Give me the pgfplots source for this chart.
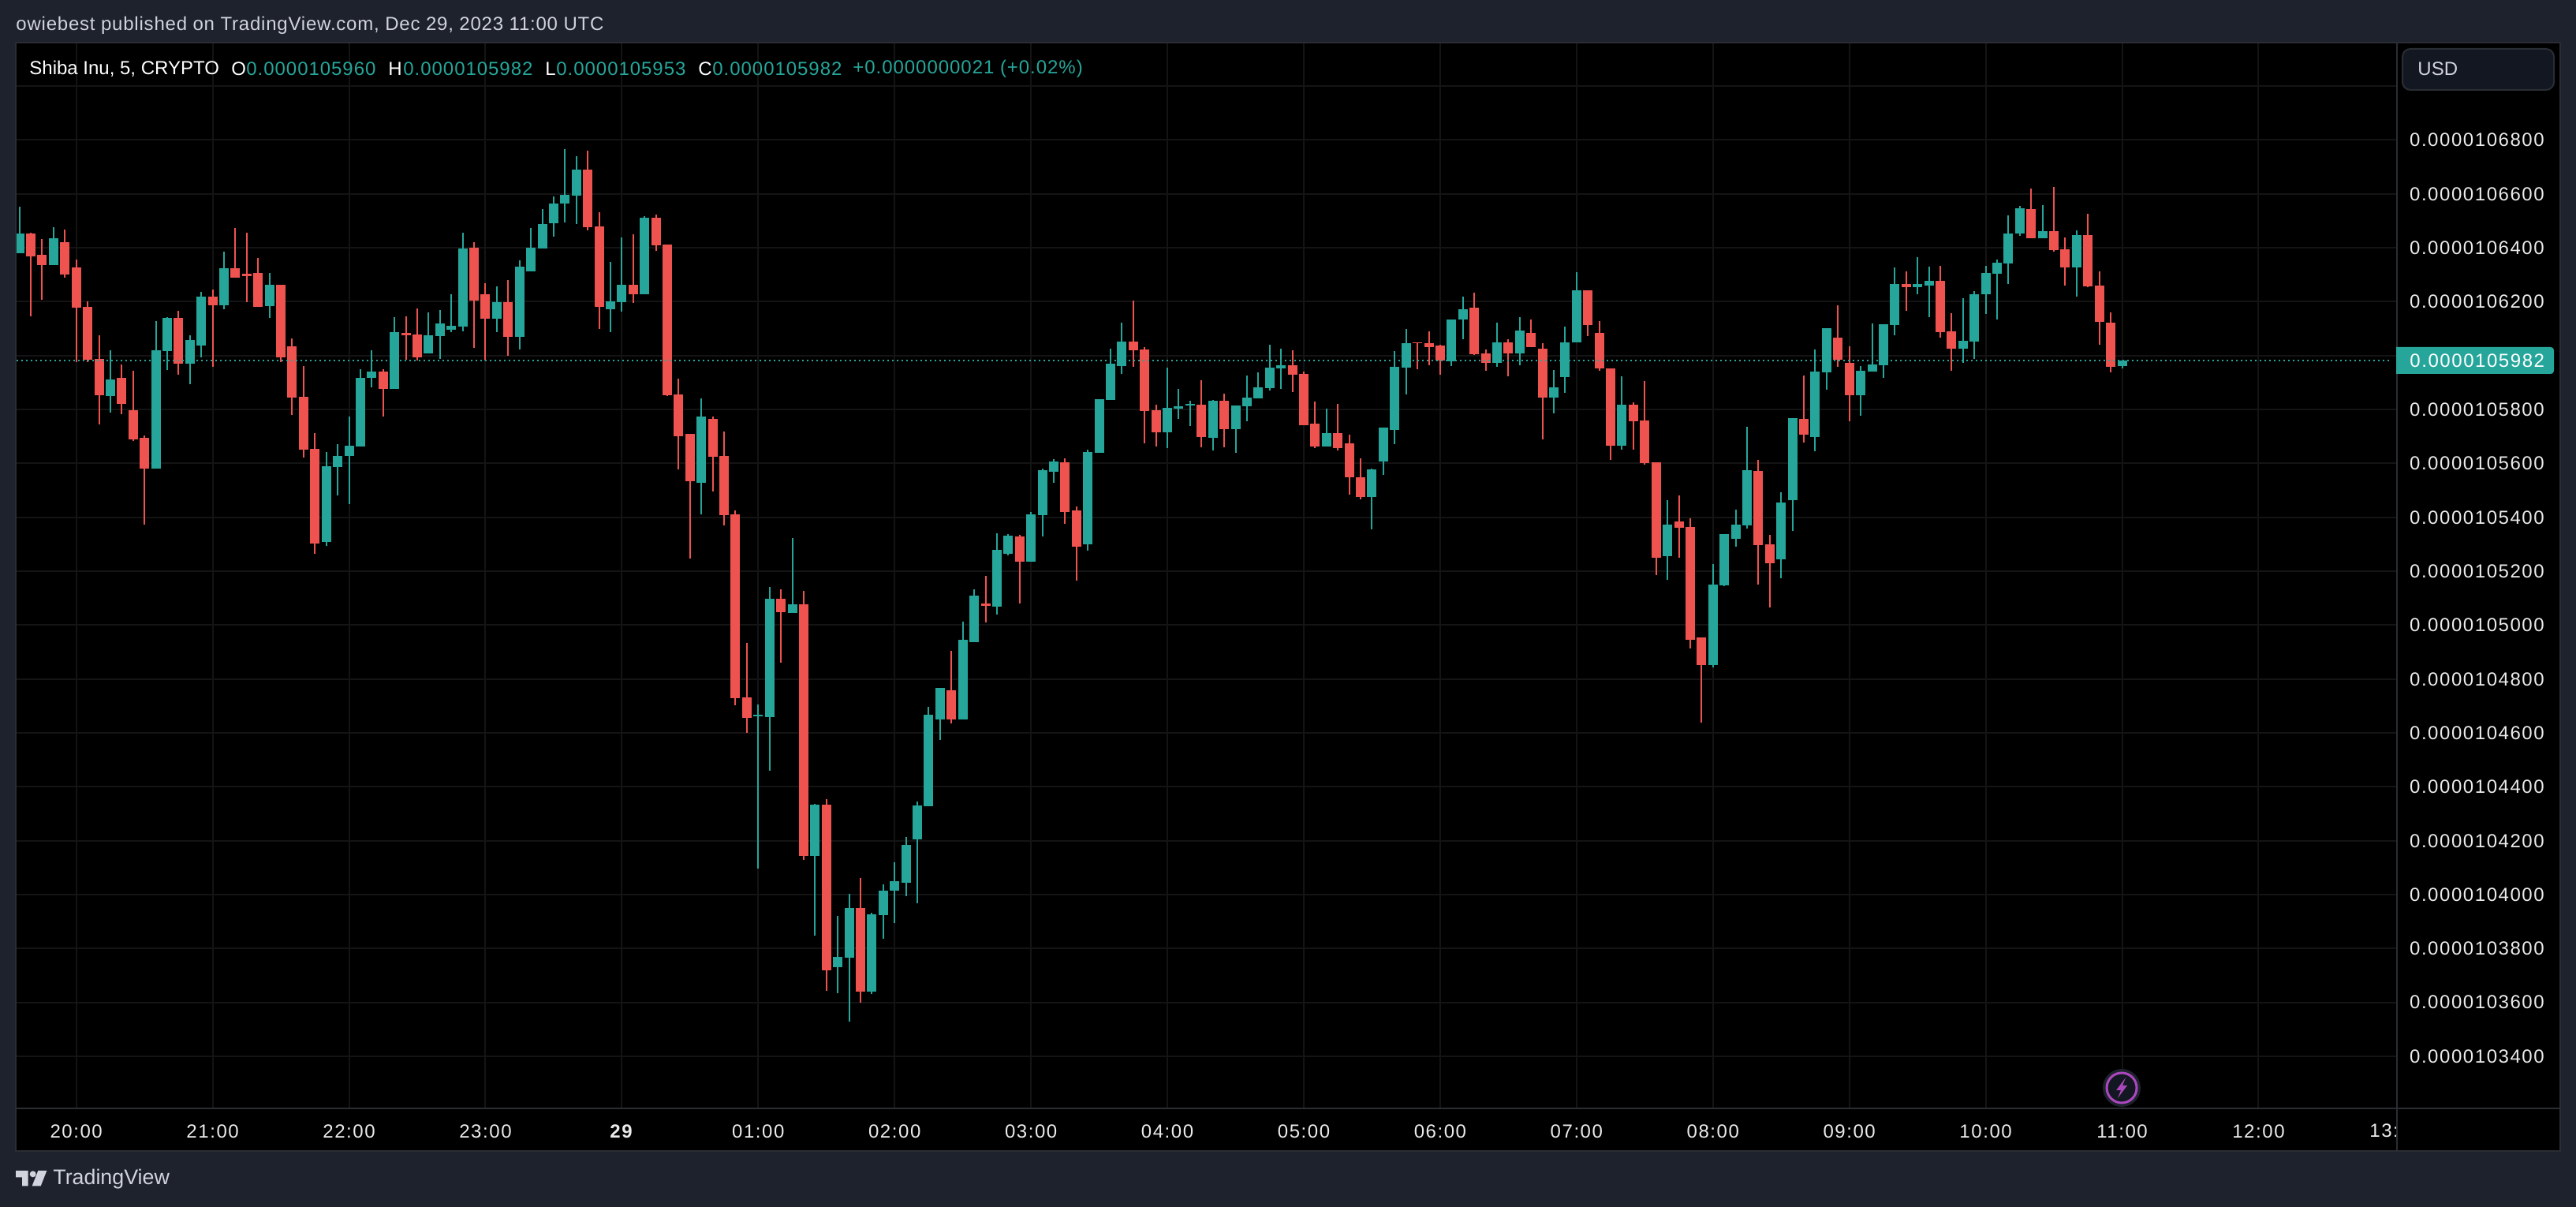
\documentclass[border=0pt]{standalone}
\usepackage{fontspec}
\usepackage{pgfplots}
\usepackage{pgfplotstable}
\pgfplotsset{compat=1.18}
\setmainfont{Liberation Sans}
\newfontfamily\lsfont[LetterSpace=6.5]{Liberation Sans}
\newfontfamily\lgfont[LetterSpace=4]{Liberation Sans}
\newfontfamily\hdfont[LetterSpace=3.3]{Liberation Sans}
\definecolor{pagebg}{HTML}{1E222D}
\definecolor{up}{HTML}{26A69A}
\definecolor{down}{HTML}{EF5350}
\definecolor{gridc}{HTML}{141414}
\definecolor{sep}{HTML}{2A2D33}
\definecolor{soft}{HTML}{D1D4DC}
\definecolor{boxc}{HTML}{131722}
\definecolor{bolt}{HTML}{AB47BC}
\pgfplotstableread{
k o h l c
-5 106380 106553 106380 106453
-2 106336 106476 106336 106436
3 105850 106021 105789 105912
7 105582 106128 105582 106021
8 106016 106142 105947 106139
10 105970 106076 105894 106058
11 106037 106236 105993 106219
13 106187 106385 106172 106324
17 106184 106307 106139 106262
22 105309 105642 105293 105590
23 105586 105671 105481 105627
24 105627 105773 105448 105665
25 105662 105950 105662 105918
26 105918 106021 105882 105940
28 105876 106142 105876 106087
31 106008 106160 106008 106076
32 106073 106168 105987 106119
33 106096 106228 106087 106110
34 106107 106456 106090 106397
37 106137 106257 106087 106199
39 106070 106353 106022 106330
40 106313 106473 106313 106400
41 106397 106544 106397 106488
42 106491 106591 106442 106564
43 106564 106767 106494 106596
44 106594 106740 106488 106690
47 106172 106348 106087 106201
48 106199 106439 106163 106262
50 106228 106517 106228 106511
55 105528 105842 105411 105774
60 104661 104707 104098 104668
61 104660 105141 104461 105097
63 105044 105323 105044 105077
65 104144 104337 103848 104335
67 103731 103921 103635 103770
68 103766 104004 103529 103951
70 103639 103934 103631 103927
71 103924 104038 103837 104016
72 104016 104120 103895 104051
73 104045 104215 103995 104186
74 104204 104347 103969 104332
75 104329 104696 104329 104667
76 104651 104768 104575 104768
78 104651 105012 104651 104945
79 104938 105134 104938 105109
81 105070 105340 105038 105279
82 105265 105337 105258 105331
84 105236 105420 105236 105411
85 105408 105581 105329 105575
86 105570 105616 105529 105608
89 105300 105652 105277 105643
90 105640 105839 105640 105839
91 105836 106026 105836 105971
92 105962 106123 105933 106053
96 105716 105956 105657 105807
97 105804 105877 105766 105813
98 105815 105833 105739 105821
100 105695 105836 105649 105833
102 105728 105815 105640 105815
103 105813 105927 105757 105845
104 105842 105938 105842 105883
105 105880 106041 105871 105956
106 105953 106026 105877 105965
110 105663 105804 105663 105713
114 105476 105581 105356 105578
115 105608 105733 105558 105733
116 105725 106018 105672 105959
117 105956 106100 105856 106047
121 105980 106135 105960 106133
122 106133 106220 106062 106171
125 105974 106121 105957 106050
127 106007 106144 105965 106094
130 105845 105948 105787 105883
131 105919 106109 105863 106050
132 106048 106311 106048 106241
136 105667 105924 105652 105819
140 105255 105463 105167 105372
144 104853 105226 104844 105152
145 105149 105337 105146 105337
146 105320 105428 105291 105372
147 105369 105736 105358 105575
150 105243 105492 105175 105454
151 105463 105768 105349 105768
153 105698 106024 105645 105941
154 105938 106103 105874 106103
157 105852 105961 105776 105943
158 105940 106119 105940 105966
159 105964 106116 105917 106116
160 106113 106327 106075 106265
162 106253 106365 106227 106265
163 106259 106330 106142 106277
166 106025 106212 105972 106054
167 106051 106239 105987 106227
168 106227 106332 106154 106306
169 106303 106356 106133 106344
170 106341 106520 106265 106452
171 106452 106555 106444 106546
173 106435 106558 106435 106461
176 106327 106464 106218 106447
180 105960 105982 105953 105982
}\greendata
\pgfplotstableread{
k o h l c
-4 106453 106456 106146 106368
-3 106374 106432 106207 106336
-1 106421 106468 106290 106301
0 106327 106356 105977 106178
1 106181 106201 105977 105985
2 105987 106076 105744 105853
4 105918 105967 105783 105821
5 105797 105943 105682 105689
6 105695 105704 105374 105582
9 106139 106166 105929 105970
12 106219 106245 105958 106187
14 106324 106473 106290 106290
15 106304 106456 106199 106295
16 106307 106362 106181 106181
18 106262 106262 105977 105993
19 106034 106064 105780 105844
20 105847 105961 105621 105651
21 105654 105712 105265 105303
27 105940 105950 105773 105876
29 106084 106145 105985 106076
30 106078 106174 105982 105995
35 106400 106421 106028 106204
36 106228 106268 105982 106137
38 106199 106280 105999 106070
45 106690 106760 106465 106476
46 106479 106533 106099 106181
49 106262 106450 106196 106228
51 106511 106523 106388 106409
52 106411 106411 105850 105853
53 105856 105914 105578 105700
54 105710 105710 105247 105533
56 105765 105774 105496 105625
57 105628 105718 105369 105408
58 105411 105425 104704 104728
59 104731 104935 104601 104657
62 105097 105134 104860 105048
64 105077 105126 104130 104144
66 104335 104353 103643 103720
69 103951 104062 103599 103639
77 104757 104906 104634 104651
80 105080 105184 105009 105072
83 105329 105334 105081 105234
87 105605 105619 105376 105420
88 105426 105441 105165 105291
93 106053 106205 105959 106020
94 106023 106032 105675 105795
95 105798 105818 105663 105716
99 105818 105909 105660 105698
101 105833 105859 105660 105728
107 105965 106020 105865 105930
108 105933 105941 105742 105742
109 105748 105830 105657 105663
111 105713 105821 105649 105657
112 105675 105707 105485 105549
113 105549 105619 105467 105476
118 106050 106050 105951 106045
119 106045 106089 105965 106033
120 106036 106039 105930 105983
123 106179 106235 106001 106004
124 106007 106024 105945 105974
126 106050 106062 105924 106007
128 106083 106135 106033 106033
129 106027 106045 105690 105845
133 106241 106241 106074 106115
134 106083 106127 105945 105954
135 105954 105954 105614 105667
137 105819 105828 105652 105757
138 105760 105907 105596 105602
139 105604 105604 105185 105249
141 105384 105481 105249 105361
142 105364 105395 104914 104947
143 104953 104955 104639 104851
148 105571 105613 105152 105296
149 105299 105335 105067 105229
152 105765 105927 105677 105707
155 106068 106187 105959 105985
156 105974 106036 105757 105853
161 106265 106312 106166 106253
164 106277 106332 106066 106086
165 106089 106157 105943 106025
172 106543 106619 106435 106435
174 106461 106625 106385 106391
175 106394 106438 106259 106327
177 106447 106526 106253 106256
178 106259 106312 106040 106125
179 106122 106160 105937 105958
}\reddata
\newcommand{\fs}{\fontsize{12}{14}\selectfont}
\begin{document}
\begin{tikzpicture}
\useasboundingbox (0,0) rectangle (1633pt,765pt);
\fill[pagebg] (0,0) rectangle (1633pt,765pt);
\begin{scope}[shift={(0,765pt)},x=0.5pt,y=-0.5pt]
\fill[black] (20,53) rectangle (3246,1459);
\end{scope}
\begin{axis}[
  at={(10.35pt,62.5pt)},anchor=south west,
  scale only axis,width=1509pt,height=675.5pt,
  xmin=-5.274,xmax=204.16,ymin=103207,ymax=107161.5,
  axis line style={draw=none},
  major tick length=0pt,
  grid=major,
  grid style={draw=gridc,line width=1pt},
  scaled y ticks=false,scaled x ticks=false,
  xtick={0,12,24,36,48,60,72,84,96,108,120,132,144,156,168,180,192},
  xticklabels={20:00,21:00,22:00,23:00,\textbf{29},01:00,02:00,03:00,04:00,05:00,06:00,07:00,08:00,09:00,10:00,11:00,12:00},
  xticklabel style={font=\lsfont\fs,color=white!92!black,anchor=north,inner sep=0pt,yshift=-9.5pt,text height=9pt},
  ytick={103400,103600,103800,104000,104200,104400,104600,104800,105000,105200,105400,105600,105800,106000,106200,106400,106600,106800,107000},
  yticklabels={0.0000103400,0.0000103600,0.0000103800,0.0000104000,0.0000104200,0.0000104400,0.0000104600,0.0000104800,0.0000105000,0.0000105200,0.0000105400,0.0000105600,0.0000105800,0.0000106000,0.0000106200,0.0000106400,0.0000106600,0.0000106800,{}},
  yticklabel pos=right,
  yticklabel style={font=\lsfont\fs,color=white!92!black,anchor=west,inner sep=0pt,xshift=8pt},
  error bars/error mark=none,
]
\addplot[forget plot,draw=none,mark=none,error bars/.cd,y dir=plus,y explicit,error bar style={line width=1pt,color=up,line cap=butt}]
  table[x=k,y=l,y error plus expr=\thisrow{h}-\thisrow{l}]{\greendata};
\addplot[forget plot,draw=none,mark=none,error bars/.cd,y dir=plus,y explicit,error bar style={line width=1pt,color=down,line cap=butt}]
  table[x=k,y=l,y error plus expr=\thisrow{h}-\thisrow{l}]{\reddata};
\addplot[forget plot,draw=none,mark=none,error bars/.cd,y dir=plus,y explicit,error bar style={line width=6pt,color=up,line cap=butt}]
  table[x=k,y=o,y error plus expr=\thisrow{c}-\thisrow{o}]{\greendata};
\addplot[forget plot,draw=none,mark=none,error bars/.cd,y dir=plus,y explicit,error bar style={line width=6pt,color=down,line cap=butt}]
  table[x=k,y=c,y error plus expr=\thisrow{o}-\thisrow{c}]{\reddata};
\addplot[forget plot,color=up,line width=1pt,dash pattern=on 1pt off 2pt] coordinates {(-5.27,105982)(203.7,105982)};
\end{axis}
\begin{scope}[shift={(0,765pt)},x=0.5pt,y=-0.5pt]
% frame
\draw[sep,line width=1pt] (20,54) rectangle (3246,1459);
\draw[sep,line width=1pt] (3038.7,54) -- (3038.7,1459);
\draw[sep,line width=1pt] (20,1405) -- (3246,1405);
% header
\node[anchor=west,inner sep=0pt,text=soft] at (20,32) {\hdfont\fs owiebest published on TradingView.com, Dec 29, 2023 11:00 UTC};
\node[anchor=west,inner sep=0pt,text=white] at (37,87) {\fs Shiba Inu, 5, CRYPTO};
\node[anchor=west,inner sep=0pt,text=white] at (293,87) {\fs O};
\node[anchor=west,inner sep=0pt,text=up] at (312,87) {\lgfont\fs 0.0000105960};
\node[anchor=west,inner sep=0pt,text=white] at (492,87) {\fs H};
\node[anchor=west,inner sep=0pt,text=up] at (511,87) {\lgfont\fs 0.0000105982};
\node[anchor=west,inner sep=0pt,text=white] at (691,87) {\fs L};
\node[anchor=west,inner sep=0pt,text=up] at (705,87) {\lgfont\fs 0.0000105953};
\node[anchor=west,inner sep=0pt,text=white] at (885,87) {\fs C};
\node[anchor=west,inner sep=0pt,text=up] at (903,87) {\lgfont\fs 0.0000105982};
\node[anchor=west,inner sep=0pt,text=up] at (1081,87) {\lgfont\fs +0.0000000021 (+0.02\%)};
% USD box
\draw[sep,fill=boxc,line width=1pt,rounded corners=5pt] (3046,62) rectangle (3238,114);
\node[anchor=west,inner sep=0pt,text=soft] at (3065,87) {\fs USD};
% last price tag
\fill[up,rounded corners=2pt] (3038,440) -- (3238,440) -- (3238,474) -- (3038,474) [sharp corners] -- cycle;
\fill[up] (3038,440) rectangle (3046,474);
\node[anchor=west,inner sep=0pt,text=white] at (3055,457) {\lsfont\fs 0.0000105982};
% clipped time label
\begin{scope}
\clip (2990,1410) rectangle (3037.5,1458);
\node[anchor=west,inner sep=0pt,text=white!92!black] at (3004,1433) {\lsfont\fs 13:00};
\end{scope}
% lightning icon
\draw[pagebg,fill=boxc,line width=2pt] (2690,1379) circle (22);
\draw[bolt,line width=1.5pt] (2690,1379) circle (19);
\fill[bolt] (2695,1366) -- (2683,1382) -- (2689,1382) -- (2685,1392) -- (2697,1376) -- (2691,1376) -- cycle;
% logo
\fill[soft] (20,1484) -- (35.7,1484) -- (35.7,1503.3) -- (28,1503.3) -- (28,1492.3) -- (20,1492.3) -- cycle;
\fill[soft] (41.7,1488.3) circle (4);
\fill[soft] (48.3,1484) -- (59.3,1484) -- (51.7,1503.3) -- (40.7,1503.3) -- cycle;
\node[anchor=west,inner sep=0pt,text=soft] at (67,1495) {\fontsize{13.4}{16}\selectfont TradingView};
\end{scope}
\end{tikzpicture}
\end{document}
